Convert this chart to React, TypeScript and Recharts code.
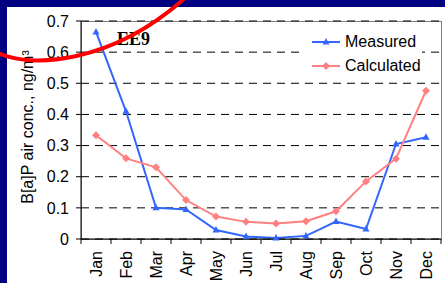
import { LineChart, Line, XAxis, YAxis, CartesianGrid, Legend } from "recharts";

const MONTHS = ["Jan", "Feb", "Mar", "Apr", "May", "Jun", "Jul", "Aug", "Sep", "Oct", "Nov", "Dec"];
const MEASURED = [0.665, 0.41, 0.1, 0.095, 0.029, 0.008, 0.003, 0.01, 0.056, 0.032, 0.305, 0.327];
const CALCULATED = [0.333, 0.259, 0.23, 0.125, 0.072, 0.055, 0.05, 0.057, 0.089, 0.185, 0.258, 0.476];
const Y_TICKS = [0, 0.1, 0.2, 0.3, 0.4, 0.5, 0.6, 0.7];
const SERIES_ORDER = ["measured", "calculated"];

const BLUE = "#3366ff";
const PINK = "#ff8080";
const FONT = "'Liberation Sans', Arial, sans-serif";

const data = MONTHS.map((m, i) => ({ month: m, measured: MEASURED[i], calculated: CALCULATED[i] }));

const Triangle = ({ cx, cy }: any) => (
  <path d={`M${cx},${cy - 4} L${cx + 3.5},${cy + 2.5} L${cx - 3.5},${cy + 2.5} Z`} fill={BLUE} />
);

const Diamond = ({ cx, cy }: any) => (
  <path d={`M${cx},${cy - 4} L${cx + 4},${cy} L${cx},${cy + 4} L${cx - 4},${cy} Z`} fill={PINK} />
);

// ticks sit on the category boundaries, labels in the middle
const MonthTick = ({ x, y, payload, index }: any) => {
  const tx = x + 6;
  const ty = y + 12;
  return (
    <g>
      <line x1={x - 15} y1={y} x2={x - 15} y2={y + 5} stroke="#000" />
      {index === MONTHS.length - 1 && <line x1={x + 15} y1={y} x2={x + 15} y2={y + 5} stroke="#000" />}
      <text
        x={tx}
        y={ty}
        transform={`rotate(-90 ${tx} ${ty})`}
        textAnchor="end"
        fontSize={16}
        fontFamily={FONT}
        fill="#000"
      >
        {payload.value}
      </text>
    </g>
  );
};

const LegendBox = ({ payload }: any) => {
  const items = [...(payload || [])].sort(
    (a: any, b: any) => SERIES_ORDER.indexOf(a.dataKey) - SERIES_ORDER.indexOf(b.dataKey)
  );
  return (
    <div style={{ background: "#fff", width: 117, height: 48, fontFamily: FONT, fontSize: 16 }}>
      {items.map((p: any) => (
        <div key={p.value} style={{ display: "flex", alignItems: "center", height: 24 }}>
          <svg width={40} height={24}>
            <line x1={7} y1={12} x2={35} y2={12} stroke={p.color} strokeWidth={2} />
            {p.dataKey === "measured" ? <Triangle cx={21} cy={12} /> : <Diamond cx={21} cy={12} />}
          </svg>
          <span style={{ color: "#000" }}>{p.value}</span>
        </div>
      ))}
    </div>
  );
};

export default function App() {
  return (
    <div style={{ position: "fixed", left: 0, top: 0, width: 445, height: 283, background: "#000080", overflow: "hidden" }}>
      <div style={{ position: "absolute", left: 7, top: 7, right: 0, bottom: 0, background: "#fff" }} />
      <div
        style={{
          position: "absolute",
          left: 81,
          top: 21,
          width: 361,
          height: 219,
          boxSizing: "border-box",
          border: "1px solid #808080",
        }}
      />
      <div style={{ position: "absolute", left: 0, top: 0 }}>
        <LineChart width={445} height={283} data={data} margin={{ top: 21, right: 4, left: 0, bottom: 0 }}>
          <CartesianGrid vertical={false} stroke="#000" strokeDasharray="8 6" />
          <XAxis
            dataKey="month"
            scale="band"
            interval={0}
            height={44}
            tickLine={false}
            tickSize={0}
            tickMargin={0}
            axisLine={{ stroke: "#000" }}
            tick={<MonthTick />}
          />
          <YAxis
            width={81}
            domain={[0, 0.7]}
            ticks={Y_TICKS}
            tickFormatter={(v: number) => String(v)}
            tickSize={5}
            tickMargin={7}
            tickLine={{ stroke: "#000" }}
            axisLine={{ stroke: "#000" }}
            tick={{ fontSize: 16, fontFamily: FONT, fill: "#000" }}
            label={{
              content: () => (
                <text
                  x={33}
                  y={127}
                  transform="rotate(-90 33 127)"
                  textAnchor="middle"
                  fontSize={16}
                  fontFamily={FONT}
                  fill="#000"
                >
                  B[a]P air conc., ng/m³
                </text>
              ),
            }}
          />
          <Legend
            layout="horizontal"
            verticalAlign="middle"
            align="center"
            wrapperStyle={{ left: 305, top: 30, width: 117, height: 48 }}
            content={<LegendBox />}
          />
          <Line
            type="linear"
            dataKey="measured"
            name="Measured"
            stroke={BLUE}
            strokeWidth={2}
            dot={<Triangle />}
            activeDot={false}
            isAnimationActive={false}
          />
          <Line
            type="linear"
            dataKey="calculated"
            name="Calculated"
            stroke={PINK}
            strokeWidth={2}
            dot={<Diamond />}
            activeDot={false}
            isAnimationActive={false}
          />
        </LineChart>
      </div>
      <svg width={445} height={283} style={{ position: "absolute", left: 0, top: 0, pointerEvents: "none" }}>
        <text x={117} y={45} fontSize={18} fontWeight="bold" fontFamily="'Liberation Serif', 'Times New Roman', serif" fill="#000">
          EE9
        </text>
        <path d="M -2 53 C 30 68, 110 65, 185 -2" fill="none" stroke="#ff0000" strokeWidth={4} />
      </svg>
    </div>
  );
}
